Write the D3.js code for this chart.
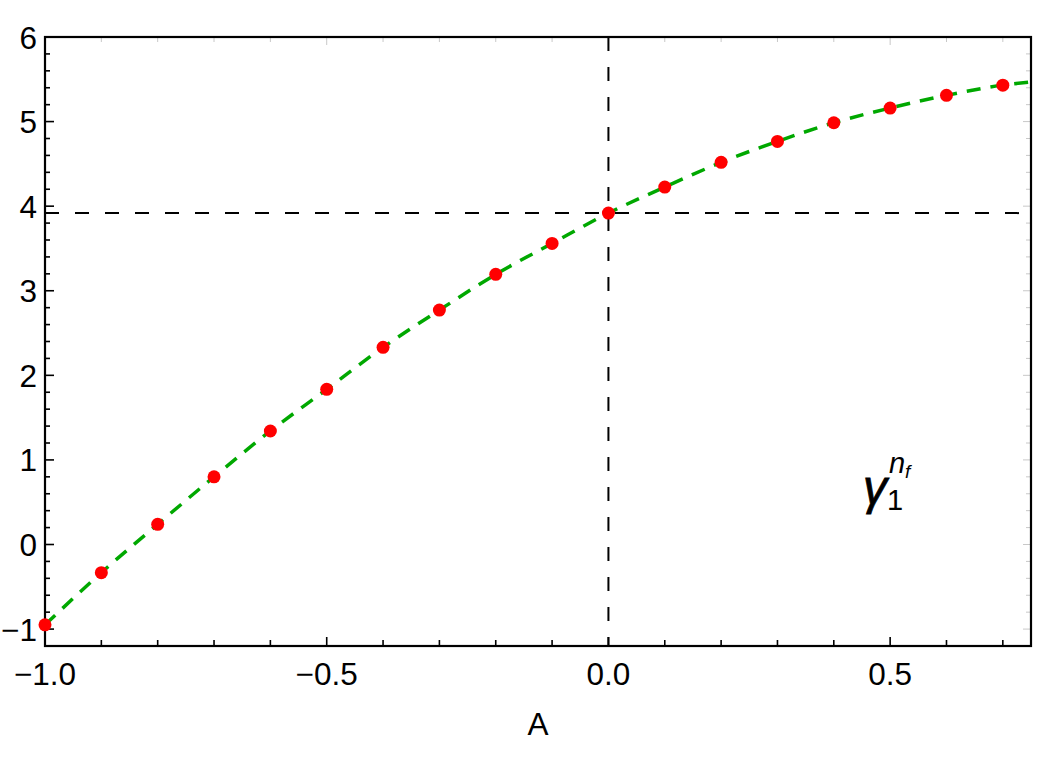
<!DOCTYPE html>
<html>
<head>
<meta charset="utf-8">
<script src="https://cdn.jsdelivr.net/npm/d3@7"></script>
<style>
  body { margin: 0; background: #fff; }
  text { font-family: "Liberation Sans", Arial, sans-serif; }
</style>
</head>
<body>
<svg id="chart"></svg>
<script>
// data
const xs = [-1.0, -0.9, -0.8, -0.7, -0.6, -0.5, -0.4, -0.3, -0.2, -0.1,
            0.0, 0.1, 0.2, 0.3, 0.4, 0.5, 0.6, 0.7];
const points = [-0.95, -0.333, 0.239, 0.80, 1.342, 1.835, 2.331, 2.772, 3.194, 3.560,
                3.918, 4.226, 4.518, 4.766, 4.986, 5.160, 5.310, 5.431];
const curveXs = xs.concat([0.75]);
const curveYs = points.concat([5.467]);
const refX = 0.0;
const refY = 3.918;
const xTicks = [-1.0, -0.5, 0.0, 0.5];
const yTicks = [-1, 0, 1, 2, 3, 4, 5, 6];

const width = 1042, height = 761;
const margin = {top: 37, right: 11, bottom: 115, left: 45};

const svg = d3.select('#chart')
    .attr('width', width)
    .attr('height', height);

const x = d3.scaleLinear().domain([-1.0, 0.75]).range([margin.left, width - margin.right]);
const y = d3.scaleLinear().domain([-1.2, 6]).range([height - margin.bottom, margin.top]);

const x0 = x.range()[0], x1 = x.range()[1];
const y0 = y.range()[0], y1 = y.range()[1];

// minor ticks
const xMinor = d3.range(-10, 8).map(d => d / 10);
const yMinor = d3.range(-6, 31).map(d => d / 5);

// top and right light ticks
svg.append('g').selectAll('line').data(xMinor).join('line')
    .attr('x1', d => x(d)).attr('x2', d => x(d))
    .attr('y1', y1).attr('y2', d => y1 + (xTicks.some(t => Math.abs(t - d) < 1e-9) ? 8 : 5))
    .attr('stroke', '#c8c8c8').attr('stroke-width', 1);
svg.append('g').selectAll('line').data(yMinor).join('line')
    .attr('y1', d => y(d)).attr('y2', d => y(d))
    .attr('x1', x1).attr('x2', d => x1 - (Math.abs(d - Math.round(d)) < 1e-9 ? 8 : 5))
    .attr('stroke', '#c8c8c8').attr('stroke-width', 1);

// bottom and left ticks
svg.append('g').selectAll('line').data(xMinor).join('line')
    .attr('x1', d => x(d)).attr('x2', d => x(d))
    .attr('y1', y0).attr('y2', d => y0 - (xTicks.some(t => Math.abs(t - d) < 1e-9) ? 9 : 6))
    .attr('stroke', '#000').attr('stroke-width', 1.6);
svg.append('g').selectAll('line').data(yMinor).join('line')
    .attr('y1', d => y(d)).attr('y2', d => y(d))
    .attr('x1', x0).attr('x2', d => x0 + (Math.abs(d - Math.round(d)) < 1e-9 ? 9 : 5))
    .attr('stroke', '#000').attr('stroke-width', 1.6);

// frame
svg.append('rect')
    .attr('x', x0).attr('y', y1)
    .attr('width', x1 - x0).attr('height', y0 - y1)
    .attr('fill', 'none').attr('stroke', '#000').attr('stroke-width', 2.2);

const fmt = d => (d < 0 ? '\u2212' : '') + Math.abs(d).toFixed(1);

svg.append('g').selectAll('text').data(xTicks).join('text')
    .attr('x', d => x(d)).attr('y', 685)
    .attr('text-anchor', 'middle')
    .style('font-size', '31.5px')
    .text(fmt);

svg.append('g').selectAll('text').data(yTicks).join('text')
    .attr('x', 37).attr('y', d => y(d) + 11.5)
    .attr('text-anchor', 'end')
    .style('font-size', '31.5px')
    .text(d => (d < 0 ? '\u2212' : '') + Math.abs(d));

svg.append('text')
    .attr('x', (x0 + x1) / 2).attr('y', 735)
    .attr('text-anchor', 'middle')
    .style('font-size', '31.5px')
    .text('A');

// reference dashed lines
svg.append('line')
    .attr('x1', x(refX)).attr('x2', x(refX)).attr('y1', y1).attr('y2', y0)
    .attr('stroke', '#000').attr('stroke-width', 2).attr('stroke-dasharray', '14,16');
svg.append('line')
    .attr('x1', x0).attr('x2', x1).attr('y1', y(refY)).attr('y2', y(refY))
    .attr('stroke', '#000').attr('stroke-width', 2).attr('stroke-dasharray', '14,16');

// green fitted curve
const line = d3.line()
    .x((d, i) => x(curveXs[i]))
    .y(d => y(d))
    .curve(d3.curveMonotoneX);

svg.append('path')
    .datum(curveYs)
    .attr('d', line)
    .attr('fill', 'none')
    .attr('stroke', '#00a800')
    .attr('stroke-width', 3.5)
    .attr('stroke-dasharray', '14,10');

// red points
svg.append('g').selectAll('circle').data(points).join('circle')
    .attr('cx', (d, i) => x(xs[i]))
    .attr('cy', d => y(d))
    .attr('r', 6.5)
    .attr('fill', '#ff0000');

// label
const lab = svg.append('text')
    .attr('x', 863).attr('y', 504)
    .style('font-style', 'italic');
lab.append('tspan').style('font-size', '48px').attr('stroke', '#000').attr('stroke-width', 0.8).text('\u03b3');
lab.append('tspan').style('font-size', '29px').style('font-style', 'normal')
    .attr('x', 887).attr('y', 510).text('1');
lab.append('tspan').style('font-size', '29px')
    .attr('x', 889).attr('y', 473).text('n');
lab.append('tspan').style('font-size', '19px')
    .attr('x', 905).attr('y', 478).text('f');
</script>
</body>
</html>
